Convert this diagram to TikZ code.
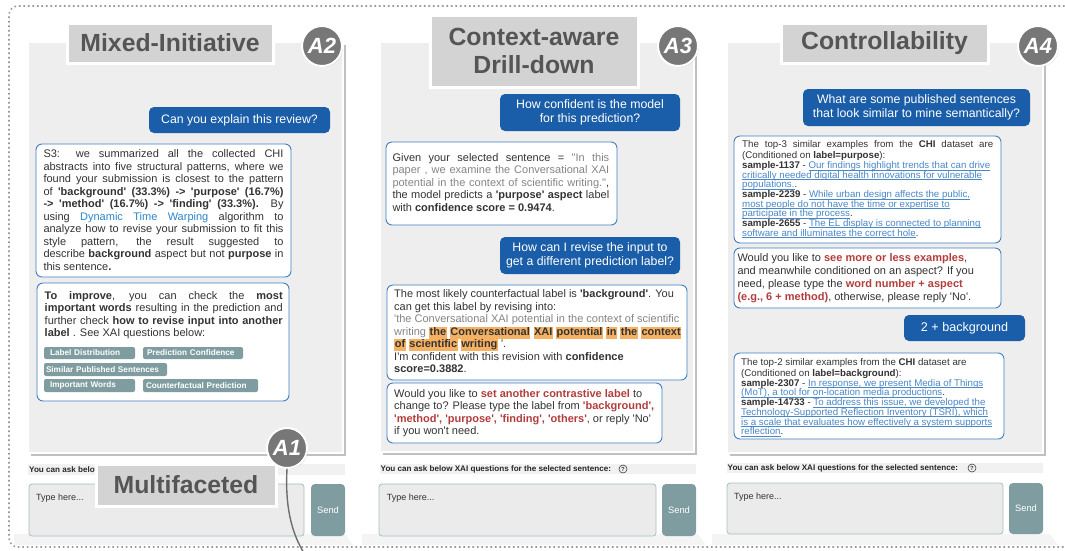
\documentclass[tikz,border=0pt]{standalone}
\usepackage{fontspec}
\setmainfont{Liberation Sans}
\usetikzlibrary{shadows}
\definecolor{panelbg}{HTML}{EEEEEE}
\definecolor{titlebg}{HTML}{D3D3D3}
\definecolor{titletx}{HTML}{555555}
\definecolor{badgec}{HTML}{777777}
\definecolor{bubblec}{HTML}{1A5DA8}
\definecolor{boxline}{HTML}{3F7FC1}
\definecolor{bodytx}{HTML}{333333}
\definecolor{redtx}{HTML}{B33D3D}
\definecolor{linktx}{HTML}{4A87C6}
\definecolor{dtwtx}{HTML}{2B86CC}
\definecolor{hlc}{HTML}{F5B062}
\definecolor{graytx}{HTML}{858585}
\definecolor{btnc}{HTML}{7F9DA1}
\definecolor{typebg}{HTML}{EBEBEB}
\definecolor{typeline}{HTML}{A6C0C3}
\definecolor{barbg}{HTML}{F1F1F1}
\definecolor{dotc}{HTML}{9A9A9A}
\definecolor{bandc}{HTML}{F4F4F4}
\definecolor{pencil}{HTML}{6E6E6E}

\newcommand\fs[2]{\fontsize{#1}{#2}\selectfont}
\newcommand\sq{\XeTeXglyph\XeTeXcharglyph"27\relax}
\newcommand\dq{\XeTeXglyph\XeTeXcharglyph"22\relax}
\newcommand\J[2]{\makebox[#1][s]{#2}}
\newcommand\rd[1]{\textcolor{redtx}{\textbf{#1}}}
\newcommand\lk[1]{\textcolor{linktx}{\setbox0\hbox{#1}\rlap{\rule[-1.6pt]{\wd0}{0.55pt}}\box0}}
\newcommand\hl[1]{{\setlength{\fboxsep}{0.6pt}\colorbox{hlc}{\rule[-2.6pt]{0pt}{10.6pt}\textbf{#1}}}}

\tikzset{
  frameline/.style={draw=dotc, line width=1.6pt, dash pattern=on 1.6pt off 2.9pt},
  panel/.style={rectangle, inner sep=0pt, fill=panelbg, draw=white, line width=1.5pt,
    drop shadow={shadow xshift=2.5pt, shadow yshift=-2.5pt, opacity=0.45, fill=black!55}},
  titlebox/.style={rectangle, fill=titlebg, draw=white, line width=3pt, text=titletx,
    font=\fs{24.8}{27.5}\bfseries, align=center, inner sep=0pt},
  badge/.style={circle, fill=badgec, draw=white, line width=2pt, minimum size=40pt, inner sep=0pt,
    text=white, font=\fs{22}{22}\bfseries\itshape,
    drop shadow={shadow xshift=1pt, shadow yshift=-1pt, opacity=0.3}},
  bubble/.style={rectangle, fill=bubblec, rounded corners=5pt, text=white, font=\fs{12.3}{13.4},
    align=center, inner sep=0pt},
  msg/.style={rectangle, fill=white, draw=boxline, line width=0.9pt, rounded corners=6pt, inner sep=0pt},
  txt/.style={inner sep=0pt, anchor=north west, align=left, text=bodytx},
  btn/.style={rectangle, fill=btnc, rounded corners=2pt, text=white, font=\fs{8.2}{9}\bfseries,
    inner ysep=0pt, align=left},
  barstrip/.style={rectangle, fill=barbg, inner sep=0pt},
  bartext/.style={anchor=base west, inner sep=0pt, font=\fs{8.1}{9}\bfseries, text=black!85},
  helpicon/.style={circle, draw=black!75, line width=0.6pt, inner sep=0pt, minimum size=8pt,
    font=\fs{6}{6}\bfseries, text=black!75},
  typebox/.style={rectangle, fill=typebg, draw=typeline, line width=0.8pt, rounded corners=3pt, inner sep=0pt},
  typetext/.style={anchor=base west, inner sep=0pt, font=\fs{9}{10}, text=bodytx},
  sendbtn/.style={rectangle, fill=btnc, rounded corners=4pt, text=white, font=\fs{9.3}{10}, inner sep=0pt},
  pencilline/.style={draw=pencil, line width=1.4pt, line cap=round},
}

\begin{document}
\begin{tikzpicture}[x=1pt,y=-1pt]
\useasboundingbox (0,0) rectangle (1065,550);

% outer dotted frame
\coordinate (fr1) at (1078,6);
\coordinate (fr2) at (9,6);
\coordinate (fr3) at (9,547);
\coordinate (fr4) at (1078,547);
\draw[frameline, rounded corners=9pt] (fr1) -- (fr2) -- (fr3) -- (fr4);

% faint bottom bands
\fill[bandc] (14,534) -- (346,534) -- (353,545) -- (14,545) -- cycle;
\fill[bandc] (362,534) -- (698,534) -- (706,545) -- (362,545) -- cycle;
\fill[bandc] (712,534) -- (1050,534) -- (1058,545) -- (712,545) -- cycle;

% panels
\node[panel, minimum width=315pt, minimum height=411pt] (P2) at (185.5,247.5) {};
\node[panel, minimum width=314pt, minimum height=410pt] (P3) at (537,247) {};
\node[panel, minimum width=316pt, minimum height=411pt] (P4) at (885,247.5) {};

% titles
\node[titlebox, minimum width=206pt, minimum height=40pt] (T2) at (170,43) {Mixed-Initiative};
\node[titlebox, minimum width=208pt, minimum height=72pt] (T3) at (534,51) {Context-aware\\Drill-down};
\node[titlebox, minimum width=207pt, minimum height=40pt] (T4) at (884.5,43) {Controllability};

% badges
\node[badge] (B2) at (322,46) {A2};
\node[badge] (B3) at (678,46) {A3};
\node[badge] (B4) at (1038,46) {A4};

% user bubbles
\node[bubble, minimum width=181pt, minimum height=26pt] (Q1) at (239.5,120) {Can you explain this review?};
\node[bubble, minimum width=180pt, minimum height=37pt] (Q2) at (590,112.5) {How confident is the model\\for this prediction?};
\node[bubble, minimum width=180pt, minimum height=37pt] (Q3) at (590,255.5) {How can I revise the input to\\get a different prediction label?};
\node[bubble, minimum width=227pt, minimum height=37pt] (Q4) at (916.5,107.5) {What are some published sentences\\that look similar to mine semantically?};
\node[bubble, minimum width=121pt, minimum height=26pt, font=\fs{12.6}{13}] (Q5) at (964.5,328) {2 + background};

% answer boxes
\node[msg, minimum width=255pt, minimum height=133pt] (M1) at (163.5,210.5) {};
\node[msg, minimum width=252pt, minimum height=118pt] (M2) at (163,342) {};
\node[msg, minimum width=231pt, minimum height=83pt] (M3) at (501.5,183.5) {};
\node[msg, minimum width=300pt, minimum height=95pt] (M4) at (537,332.5) {};
\node[msg, minimum width=275pt, minimum height=60pt] (M5) at (524.5,413) {};
\node[msg, minimum width=267pt, minimum height=107pt] (M6) at (867.5,189.5) {};
\node[msg, minimum width=267pt, minimum height=60pt] (M7) at (867.5,278) {};
\node[msg, minimum width=270pt, minimum height=86pt] (M8) at (869,396) {};

% texts
\node[txt, font=\fs{11}{12.5}] (X1) at (43.3,149) {\strut\J{240pt}{S3: we summarized all the collected CHI}\\
\J{240pt}{abstracts into five structural patterns, where we}\\
\J{240pt}{found your submission is closest to the pattern}\\
\J{240pt}{of \textbf{\sq background\sq{} (33.3\%) -> \sq purpose\sq{} (16.7\%)}}\\
\J{240pt}{\textbf{-> \sq method\sq{} (16.7\%) -> \sq finding\sq{} (33.3\%).} By}\\
\J{240pt}{using \textcolor{dtwtx}{Dynamic Time Warping} algorithm to}\\
\J{240pt}{analyze how to revise your submission to fit this}\\
\J{240pt}{style pattern, the result suggested to}\\
\J{240pt}{describe \textbf{background} aspect but not \textbf{purpose} in}\\
this sentence\textbf{.}};

\node[txt, font=\fs{11}{12.6}] (X2) at (44.5,290) {\strut\J{238pt}{\textbf{To improve}, you can check the \textbf{most}}\\
\J{238pt}{\textbf{important words} resulting in the prediction and}\\
\J{238pt}{further check \textbf{how to revise input into another}}\\
\textbf{label} . See XAI questions below:};

\node[btn, text width=79pt, inner xsep=6pt, minimum height=12pt] (K1) at (89.5,353) {Label Distribution};
\node[btn, text width=92pt, inner xsep=4pt, minimum height=12pt] (K2) at (193,353) {Prediction Confidence};
\node[btn, text width=119pt, inner xsep=2pt, minimum height=13pt] (K3) at (105.5,369.5) {Similar Published Sentences};
\node[btn, text width=79pt, inner xsep=6pt, minimum height=13pt] (K4) at (89.5,385.5) {Important Words};
\node[btn, text width=109pt, inner xsep=3pt, minimum height=13pt] (K5) at (200.5,385.5) {Counterfactual Prediction};

\node[txt, font=\fs{11}{12.5}] (X3) at (392.3,152.4) {\strut\J{216.7pt}{Given your selected sentence = \textcolor{graytx}{\dq In this}}\\
\J{216.7pt}{\textcolor{graytx}{paper , we examine the Conversational XAI}}\\
\J{216.7pt}{\textcolor{graytx}{potential in the context of scientific writing.\dq},}\\
\J{216.7pt}{the model predicts a \textbf{\sq purpose\sq{} aspect} label}\\
with \textbf{confidence score = 0.9474}.};

\node[txt, font=\fs{11}{12.5}] (X4) at (394,289) {\strut The most likely counterfactual label is \textbf{\sq background\sq}. You\\
can get this label by revising into:\\
\textcolor{graytx}{\sq the Conversational XAI potential in the context of scientific}\\
\textcolor{graytx}{writing} \hl{the} \hl{Conversational} \hl{XAI} \hl{potential} \hl{in} \hl{the} \hl{context}\\
\hl{of} \hl{scientific} \hl{writing} \sq.\\
I\sq m confident with this revision with \textbf{confidence}\\
\textbf{score=0.3882}.};

\node[txt, font=\fs{11}{12.6}] (X5) at (394,388) {\strut Would you like to \rd{set another contrastive label} to\\
change to? Please type the label from \rd{\sq background\sq,}\\
\rd{\sq method\sq, \sq purpose\sq, \sq finding\sq, \sq others\sq}, or reply \sq No\sq\\
if you won\sq t need.};

\node[txt, font=\fs{9.7}{9.65}] (X6) at (742,140.7) {\strut\J{251pt}{The top-3 similar examples from the \textbf{CHI} dataset are}\\
(Conditioned on \textbf{label=purpose}):\\
\textbf{sample-1137} - \lk{Our findings highlight trends that can drive}\\
\lk{critically needed digital health innovations for vulnerable}\\
\lk{populations.}.\\
\textbf{sample-2239} - \lk{While urban design affects the public,}\\
\lk{most people do not have the time or expertise to}\\
\lk{participate in the process}.\\
\textbf{sample-2655} - \lk{The EL display is connected to planning}\\
\lk{software and illuminates the correct hole}.};

\node[txt, font=\fs{11}{12.7}] (X7) at (737.3,252.9) {\strut Would you like to \rd{see more or less examples},\\
and meanwhile conditioned on an aspect? If you\\
need, please type the \rd{word number + aspect}\\
\rd{(e.g., 6 + method)}, otherwise, please reply \sq No\sq.};

\node[txt, font=\fs{9.7}{9.7}] (X8) at (741,358.4) {\strut The top-2 similar examples from the \textbf{CHI} dataset are\\
(Conditioned on \textbf{label=background}):\\
\textbf{sample-2307} - \lk{In response, we present Media of Things}\\
\lk{(MoT), a tool for on-location media productions}.\\
\textbf{sample-14733} - \lk{To address this issue, we developed the}\\
\lk{Technology-Supported Reflection Inventory (TSRI), which}\\
\lk{is a scale that evaluates how effectively a system supports}\\
\lk{reflection}.};

% question bars
\node[barstrip, minimum width=317pt, minimum height=11pt] (R2) at (186.5,469.5) {};
\node[barstrip, minimum width=316pt, minimum height=10pt] (R3) at (538,469) {};
\node[barstrip, minimum width=316pt, minimum height=10pt] (R4) at (885,468) {};
\node[bartext] (L2) at (29,472.3) {You can ask below XAI questions for the selected sentence:};
\node[bartext] (L3) at (380.5,471.8) {You can ask below XAI questions for the selected sentence:};
\node[bartext] (L4) at (727.5,470.8) {You can ask below XAI questions for the selected sentence:};
\node[helpicon] (H3) at (623,469) {?};
\node[helpicon] (H4) at (972,468) {?};

% input boxes
\node[typebox, minimum width=275pt, minimum height=52pt] (I2) at (166.5,510) {};
\node[typebox, minimum width=277pt, minimum height=52pt] (I3) at (517.5,510) {};
\node[typebox, minimum width=276pt, minimum height=51pt] (I4) at (865,508.5) {};
\node[typetext] (Y2) at (36,500.6) {Type here...};
\node[typetext] (Y3) at (386.7,500.6) {Type here...};
\node[typetext] (Y4) at (734,499) {Type here...};
\node[sendbtn, minimum width=34pt, minimum height=52pt] (S2) at (328,510) {Send};
\node[sendbtn, minimum width=34pt, minimum height=52pt] (S3) at (679,510) {Send};
\node[sendbtn, minimum width=34pt, minimum height=51pt] (S4) at (1026,508.5) {Send};

% multifaceted label and A1
\node[titlebox, minimum width=180pt, minimum height=42pt] (T1) at (186,485) {Multifaceted};
\coordinate (a1end) at (304,553);
\node[badge] (B1) at (287,448) {A1};
\draw[pencilline] (B1.south) .. controls (285,505) and (291,532) .. (a1end);
\end{tikzpicture}
\end{document}
